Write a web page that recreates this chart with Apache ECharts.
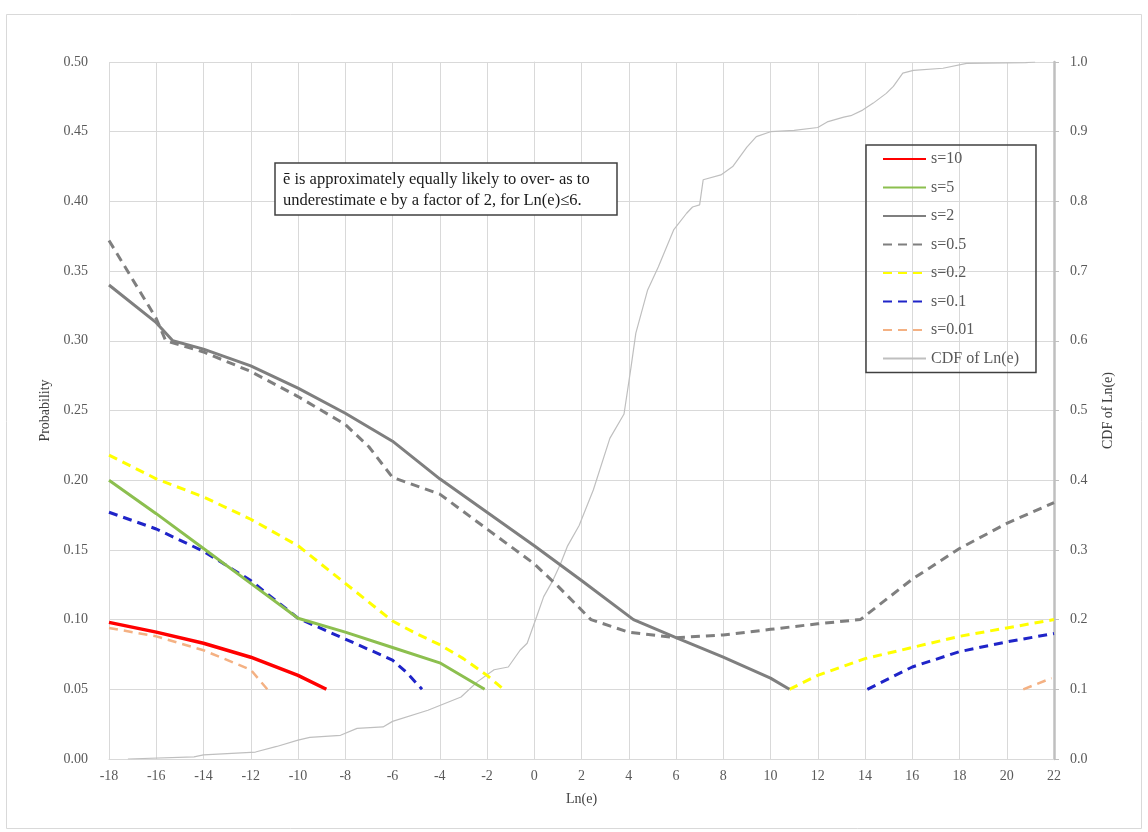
<!DOCTYPE html>
<html>
<head>
<meta charset="utf-8">
<script src="https://cdn.jsdelivr.net/npm/echarts@6/dist/echarts.min.js"></script>
<style>
  html, body { margin: 0; padding: 0; background: #ffffff; }
  #chart { width: 1148px; height: 832px; }
</style>
</head>
<body>
<div id="chart"></div>
<script>
// Probability that the estimate lands within a factor of 2, by Ln(e), for several s values
const xTicks = { min: -18, max: 22, step: 2 };
const probTicks = { min: 0, max: 0.5, step: 0.05 };
const cdfTicks = { min: 0, max: 1, step: 0.1 };

const s10 = [[-18, 0.098], [-16, 0.091], [-14, 0.083], [-12, 0.073], [-10, 0.060], [-8.8, 0.050]];
const s5 = [[-18, 0.200], [-16, 0.176], [-14, 0.151], [-12, 0.126], [-10, 0.101], [-8, 0.091],
            [-6, 0.080], [-4, 0.069], [-2.1, 0.050]];
const s2 = [[-18, 0.340], [-16, 0.313], [-15.3, 0.300], [-14, 0.294], [-12, 0.282], [-10, 0.266],
            [-8, 0.248], [-6, 0.228], [-4, 0.201], [-2, 0.177], [0, 0.153], [2, 0.128],
            [4.2, 0.100], [6, 0.087], [8, 0.073], [10, 0.058], [10.8, 0.050]];
const s05 = [[-18, 0.372], [-16, 0.316], [-15.6, 0.300], [-14, 0.292], [-12, 0.278], [-10, 0.260],
             [-8, 0.240], [-7, 0.224], [-6, 0.202], [-4, 0.190], [-2, 0.165], [0, 0.140],
             [1, 0.124], [2.4, 0.100], [4, 0.091], [6, 0.087], [8, 0.089], [10, 0.093],
             [12, 0.097], [13.8, 0.100], [16, 0.129], [18, 0.151], [20, 0.169], [22, 0.184]];
const s02Low = [[-18, 0.218], [-16, 0.201], [-14, 0.188], [-12, 0.172], [-10, 0.153], [-8, 0.126],
                [-6, 0.099], [-5, 0.090], [-4, 0.082], [-3, 0.072], [-2, 0.060], [-1.3, 0.050]];
const s02High = [[10.8, 0.050], [12, 0.060], [14, 0.072], [16, 0.080], [18, 0.088], [20, 0.094], [22, 0.100]];
const s01Low = [[-18, 0.177], [-16, 0.165], [-14, 0.149], [-12, 0.128], [-10, 0.101], [-8, 0.086],
                [-6, 0.071], [-5.4, 0.062], [-4.75, 0.050]];
const s01High = [[14.1, 0.050], [16, 0.066], [18, 0.077], [20, 0.084], [22, 0.090]];
const s001Low = [[-18, 0.094], [-16, 0.088], [-14, 0.078], [-12, 0.064], [-11.3, 0.050]];
const s001High = [[20.7, 0.050], [21.9, 0.058]];
const cdfLn = [[-17.2, 0], [-14.4, 0.003], [-14, 0.006], [-11.8, 0.010], [-10.9, 0.018], [-10, 0.027],
               [-9.5, 0.031], [-8.2, 0.034], [-7.5, 0.044], [-6.4, 0.046], [-6, 0.054], [-4.5, 0.070],
               [-3.1, 0.089], [-2.4, 0.111], [-1.7, 0.128], [-1.1, 0.132], [-0.6, 0.156], [-0.3, 0.166],
               [0.1, 0.204], [0.4, 0.233], [0.8, 0.257], [1.1, 0.279], [1.4, 0.305], [1.9, 0.335],
               [2.5, 0.386], [3.2, 0.460], [3.8, 0.495], [4.1, 0.563], [4.3, 0.611], [4.8, 0.673],
               [5.25, 0.706], [5.9, 0.759], [6.45, 0.783], [6.7, 0.792], [7.0, 0.795], [7.15, 0.831],
               [7.9, 0.838], [8.4, 0.850], [9.0, 0.878], [9.4, 0.893], [10.0, 0.900], [11.0, 0.902],
               [12.0, 0.906], [12.4, 0.914], [13.1, 0.921], [13.4, 0.923], [13.9, 0.931], [14.35, 0.941],
               [14.9, 0.955], [15.2, 0.965], [15.6, 0.984], [16.05, 0.988], [17.3, 0.991], [18.3, 0.998],
               [20.8, 0.999], [21.2, 1.0]];

const seriesNames = ['s=10', 's=5', 's=2', 's=0.5', 's=0.2', 's=0.1', 's=0.01', 'CDF of Ln(e)'];
const noteLines = ['ē is approximately equally likely to over- as to',
                   'underestimate e by a factor of 2, for Ln(e)≤6.'];

const serif = 'Liberation Serif, "Times New Roman", serif';
const labelColor = '#595959';
const gridColor = '#d9d9d9';
const dash = [9, 6];

function curve(name, data, color, width, type, axis) {
  return {
    name: name,
    type: 'line',
    data: data,
    yAxisIndex: axis || 0,
    symbol: 'none',
    smooth: false,
    silent: true,
    animation: false,
    itemStyle: { color: color },
    lineStyle: { color: color, width: width, type: type, cap: 'butt' }
  };
}

const chart = echarts.init(document.getElementById('chart'), null, { renderer: 'canvas' });

chart.setOption({
  backgroundColor: '#ffffff',
  animation: false,
  grid: { left: 109, right: 94, top: 62, bottom: 73, containLabel: false },
  xAxis: {
    type: 'value',
    min: xTicks.min, max: xTicks.max, interval: xTicks.step,
    name: 'Ln(e)', nameLocation: 'middle', nameGap: 33,
    nameTextStyle: { fontFamily: serif, fontSize: 14, color: '#404040' },
    axisLine: { show: true, lineStyle: { color: gridColor, width: 1 } },
    axisTick: { show: false },
    axisLabel: { fontFamily: serif, fontSize: 14, color: labelColor, margin: 10 },
    splitLine: { show: true, lineStyle: { color: gridColor, width: 1 } }
  },
  yAxis: [
    {
      type: 'value', position: 'left',
      min: probTicks.min, max: probTicks.max, interval: probTicks.step,
      name: 'Probability', nameLocation: 'middle', nameGap: 51,
      nameTextStyle: { fontFamily: serif, fontSize: 14, color: '#404040' },
      axisLine: { show: true, lineStyle: { color: gridColor, width: 1 } },
      axisTick: { show: false },
      axisLabel: { fontFamily: serif, fontSize: 14, color: labelColor, margin: 21,
                   formatter: v => v.toFixed(2) },
      splitLine: { show: true, lineStyle: { color: gridColor, width: 1 } }
    },
    {
      type: 'value', position: 'right',
      min: cdfTicks.min, max: cdfTicks.max, interval: cdfTicks.step,
      name: 'CDF of Ln(e)', nameLocation: 'middle', nameGap: 47,
      nameTextStyle: { fontFamily: serif, fontSize: 14, color: '#404040' },
      axisLine: { show: true, lineStyle: { color: '#bfbfbf', width: 2.5 } },
      axisTick: { show: true, inside: false, length: 5, lineStyle: { color: '#bfbfbf', width: 1 } },
      axisLabel: { fontFamily: serif, fontSize: 14, color: labelColor, margin: 16,
                   formatter: v => v.toFixed(1) },
      splitLine: { show: false }
    }
  ],
  legend: {
    orient: 'vertical',
    left: 866, top: 145,
    data: seriesNames,
    itemWidth: 43, itemHeight: 14, itemGap: 12.5,
    padding: [6, 17, 6, 16],
    borderColor: '#404040', borderWidth: 1.5,
    itemStyle: { opacity: 0 },
    textStyle: { fontFamily: serif, fontSize: 16, color: labelColor },
    selectedMode: false
  },
  graphic: [
    {
      type: 'rect', silent: true, z: -10,
      shape: { x: 6.5, y: 14.5, width: 1135, height: 814 },
      style: { fill: 'none', stroke: '#d9d9d9', lineWidth: 1 }
    },
    {
      type: 'rect', silent: true, z: 100,
      shape: { x: 275, y: 163, width: 342, height: 52 },
      style: { fill: '#ffffff', stroke: '#404040', lineWidth: 1.5 }
    },
    {
      type: 'text', silent: true, z: 101, x: 283, y: 169,
      style: { text: noteLines.join('\n'), fill: '#1a1a1a', font: '16.5px ' + serif, lineHeight: 21 }
    }
  ],
  series: [
    curve(seriesNames[7], cdfLn, '#bfbfbf', 1.2, 'solid', 1),
    curve(seriesNames[6], s001Low, '#f4b183', 2.5, dash),
    curve(seriesNames[6], s001High, '#f4b183', 2.5, dash),
    curve(seriesNames[5], s01Low, '#1f24c8', 3, dash),
    curve(seriesNames[5], s01High, '#1f24c8', 3, dash),
    curve(seriesNames[4], s02Low, '#ffff00', 3, dash),
    curve(seriesNames[4], s02High, '#ffff00', 3, dash),
    curve(seriesNames[3], s05, '#7f7f7f', 3, dash),
    curve(seriesNames[2], s2, '#7f7f7f', 3, 'solid'),
    curve(seriesNames[1], s5, '#8cbf4f', 3, 'solid'),
    curve(seriesNames[0], s10, '#ff0000', 3.5, 'solid')
  ]
});
</script>
</body>
</html>
